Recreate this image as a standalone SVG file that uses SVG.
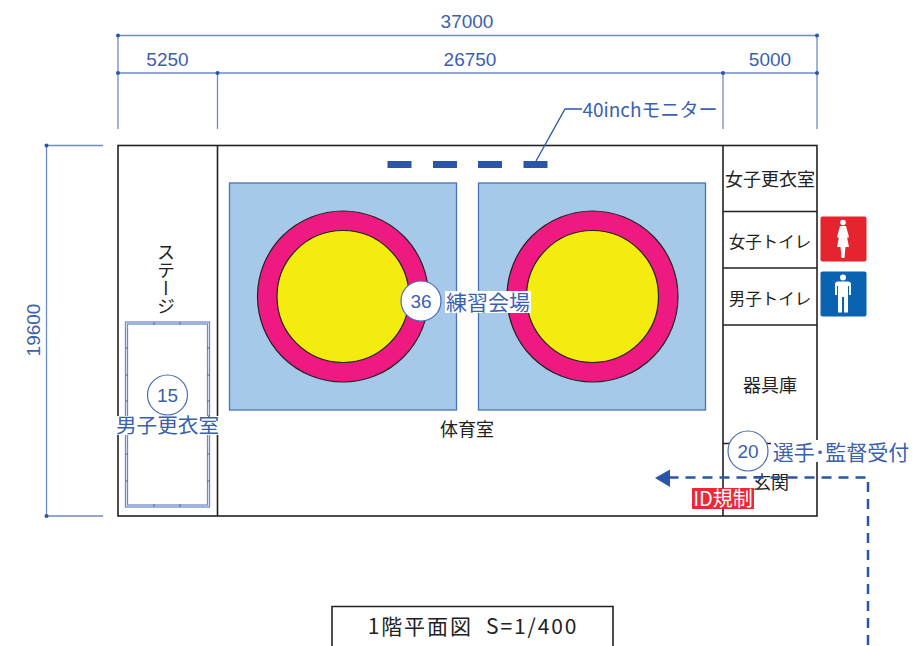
<svg xmlns="http://www.w3.org/2000/svg" width="922" height="646" viewBox="0 0 922 646">
<style>
text{font-family:"Liberation Sans","Noto Sans CJK JP",sans-serif;text-anchor:middle}
.b{fill:#3b5faf;font-size:19px}
.j{font-family:"Noto Sans CJK JP","Liberation Sans",sans-serif}
.k{fill:#222;font-size:18px}
.dim{stroke:#6e8cc9;stroke-width:1.3;fill:none}
.dot{fill:#2a55a8}
.wall{fill:none;stroke:#222;stroke-width:1.6}
.pad{fill:#a6c9ea;stroke:#4a72b5;stroke-width:1.3}
.o{fill:#ee1a82;stroke:#222;stroke-width:1.2}
.y{fill:#f5ec0f;stroke:#222;stroke-width:1.2}
.c{fill:#fff;stroke:#4a6cb5;stroke-width:1.2}
.m{fill:#2a55a8}
.st{fill:none;stroke:#6e8cc9;stroke-width:1.3}
.tick{stroke:#4a6cb5;stroke-width:1}
</style>
<g id="dimensions">
<path class="dim" d="M118 35.500H817M118 73H817M118 35.500V129M217.500 73V129M723 73V129M817 35.500V129M46.500 145.500H103M46.500 516H103M46.500 145.500V516"/>
<circle class="dot" cx="118" cy="35.500" r="2"/><circle class="dot" cx="817" cy="35.500" r="2"/>
<circle class="dot" cx="118" cy="73" r="2"/><circle class="dot" cx="217.500" cy="73" r="2"/><circle class="dot" cx="723" cy="73" r="2"/><circle class="dot" cx="817" cy="73" r="2"/>
<circle class="dot" cx="46.500" cy="145.500" r="2"/><circle class="dot" cx="46.500" cy="516" r="2"/>
<text class="b" x="467" y="28">37000</text>
<text class="b" x="167.500" y="66">5250</text>
<text class="b" x="470" y="66">26750</text>
<text class="b" x="770" y="66">5000</text>
<text class="b" transform="translate(40 330) rotate(-90)">19600</text>
</g>
<g id="building">
<rect class="wall" x="118" y="145.500" width="699" height="370.500"/>
<path class="wall" d="M217.500 145.500V516M723 145.500V516M723 211.500H817M723 268H817M723 325H817"/>
<path class="wall" d="M723 443.500H740M760 443.500H772"/>
</g>
<g id="gym">
<rect class="pad" x="229.500" y="183" width="227" height="227"/>
<rect class="pad" x="478.500" y="183" width="227" height="227"/>
<circle class="o" cx="343" cy="296.500" r="85.500"/><circle class="y" cx="343" cy="296.500" r="66"/>
<circle class="o" cx="592.500" cy="296.500" r="85.500"/><circle class="y" cx="592.500" cy="296.500" r="66"/>
<text class="k j" x="467" y="436">体育室</text>
</g>
<g id="monitors">
<rect class="m" x="387.500" y="161" width="24" height="7"/><rect class="m" x="433" y="161" width="24" height="7"/><rect class="m" x="478" y="161" width="24" height="7"/><rect class="m" x="523.500" y="161" width="24" height="7"/>
<path d="M536 161L565 109H582" fill="none" stroke="#2a55a8" stroke-width="1.300"/>
<text class="b j" x="650" y="117">40inchモニター</text>
</g>
<g id="stage">
<text class="k j" x="166" y="243" style="writing-mode:vertical-rl;text-anchor:start;font-size:18px">ステージ</text>
<rect class="st" x="125.500" y="322" width="84" height="185"/>
<rect class="st" x="127.500" y="324" width="80" height="181"/>
<path class="tick" d="M154 322V325M180 322V325M154 504V507M180 504V507M125 348H128M125 375H128M125 401H128M125 428H128M125 454H128M125 481H128M207 348H210M207 375H210M207 401H210M207 428H210M207 454H210M207 481H210"/>
</g>
<g id="rooms">
<text class="k j" x="770" y="186">女子更衣室</text>
<text class="k j" x="770" y="248" style="font-size:16.500px">女子トイレ</text>
<text class="k j" x="770" y="305" style="font-size:16.500px">男子トイレ</text>
<text class="k j" x="770" y="392">器具庫</text>
<text class="k j" x="771" y="489">玄関</text>
</g>
<g id="toilet-f">
<rect x="820.500" y="216.500" width="46" height="45" rx="2" fill="#e5242f"/>
<circle cx="843" cy="222.500" r="2.800" fill="#fff"/>
<path d="M840 226H846L849 237L847.500 238L846.500 234.500L849 247H845.500L844.500 258H841.500L840.500 247H837L839.500 234.500L838.500 238L837 237Z" fill="#fff"/>
</g>
<g id="toilet-m">
<rect x="820.500" y="271.500" width="46" height="45" rx="2" fill="#0a63b0"/>
<circle cx="843" cy="277.500" r="3" fill="#fff"/>
<path d="M838 281.500H848Q851 281.500 851 284.500V295H849V286H848V312.500H844V297H842V312.500H838V286H837V295H835V284.500Q835 281.500 838 281.500Z" fill="#fff"/>
</g>
<g id="route">
<path d="M868 645V477.500H668" fill="none" stroke="#2a55a8" stroke-width="2.500" stroke-dasharray="10 7"/>
<path d="M655 478L670 469.500V487Z" fill="#2a55a8"/>
</g>
<g id="label-15">
<circle class="c" cx="167.500" cy="395" r="20"/>
<text class="b" x="167.500" y="402">15</text>
<rect x="116" y="416" width="103" height="19" fill="#fff"/>
<text class="b j" x="167.500" y="433" style="font-size:20.600px">男子更衣室</text>
</g>
<g id="label-36">
<circle class="c" cx="421" cy="301" r="20"/>
<text class="b" x="421" y="308">36</text>
<rect x="445" y="291" width="86" height="22" fill="#fff"/>
<text class="b j" x="488" y="310" style="font-size:21px">練習会場</text>
</g>
<g id="label-20">
<circle class="c" cx="748" cy="451" r="20"/>
<text class="b" x="748" y="458">20</text>
<rect x="771" y="440" width="138" height="22" fill="#fff"/>
<text class="b j" x="841" y="460" style="font-size:21px">選手･監督受付</text>
</g>
<g id="label-id">
<rect x="692" y="488" width="62" height="21" fill="#ee2737"/>
<text class="j" x="723" y="506" fill="#fff" style="font-size:20px">ID規制</text>
</g>
<g id="title">
<path d="M332 646V606.500H613V646" fill="none" stroke="#222" stroke-width="1.600"/>
<text class="j" x="473" y="634" fill="#222" style="font-size:21px;letter-spacing:1.900px">1階平面図&#160;&#160;S=1/400</text>
</g>
</svg>
